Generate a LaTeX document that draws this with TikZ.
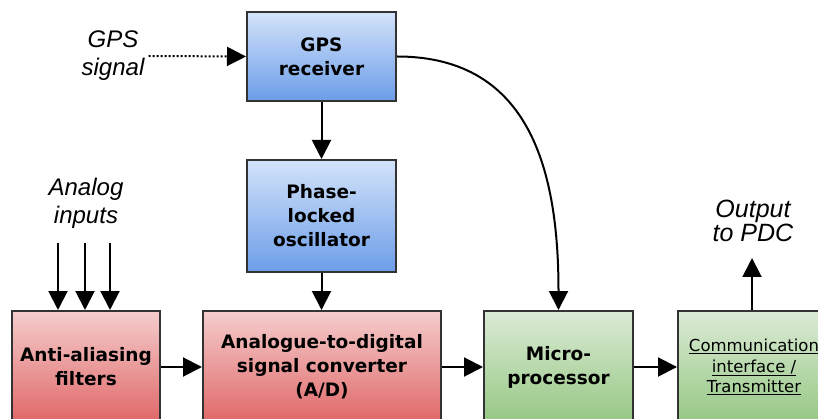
\documentclass[tikz,border=0pt]{standalone}
\usepackage{fontspec}
\setmainfont{DejaVu Sans}
\newfontfamily\lblfont{Liberation Sans}
\usetikzlibrary{arrows.meta}
\definecolor{boxline}{HTML}{333333}
\definecolor{bluetop}{HTML}{D3E3FA}
\definecolor{bluebot}{HTML}{6C9DE8}
\definecolor{redtop}{HTML}{F5CDCD}
\definecolor{redbot}{HTML}{E06767}
\definecolor{greentop}{HTML}{DCEBD6}
\definecolor{greenbot}{HTML}{95C783}

\begin{document}
\begin{tikzpicture}[x=1pt,y=-1pt,
    blk/.style={draw=boxline,line width=2pt,inner sep=0pt,align=center,
      font=\fontsize{18.5}{24}\selectfont\bfseries},
    blueblk/.style={blk,top color=bluetop,bottom color=bluebot},
    redblk/.style={blk,top color=redtop,bottom color=redbot},
    greenblk/.style={blk,top color=greentop,bottom color=greenbot},
    lbl/.style={align=center,inner sep=4pt,font=\lblfont\itshape\fontsize{24}{28}\selectfont},
    arr/.style={-{Triangle[length=19pt,width=19pt]},line width=2pt}]
        \useasboundingbox (0,0) rectangle (818,419);
        \clip (0,0) rectangle (818,419);

        \node[blueblk,minimum width=149pt,minimum height=89pt] (gps) at (321.5,56.5) {GPS\\receiver};
        \node[blueblk,minimum width=149pt,minimum height=112pt] (plo) at (321.5,216) {Phase-\\locked\\oscillator};
        \node[redblk,minimum width=148pt,minimum height=112pt] (anti) at (86,367) {Anti-aliasing\\filters};
        \node[redblk,minimum width=238pt,minimum height=112pt] (adc) at (322,367) {Analogue-to-digital\\signal converter\\(A/D)};
        \node[greenblk,minimum width=149pt,minimum height=112pt] (micro) at (558.5,367) {Micro-\\processor};
        \node[greenblk,minimum width=152pt,minimum height=112pt,
          font=\fontsize{16.5}{20.5}\selectfont] (comm) at (754,367)
          {\underline{Communication}\\\underline{interface /}\\\underline{Transmitter}};

        \node[lbl] (gpssig) at (113,56) {GPS\\signal};
        \node[lbl] (analog) at (86,203) {Analog\\inputs};
        \node[lbl,font=\lblfont\itshape\fontsize{25}{20}\selectfont] (pdc) at (753,221) {Output\\to PDC};

        \coordinate (in1) at (58,243);
        \coordinate (in2) at (85,243);
        \coordinate (in3) at (110,243);
        \coordinate (out) at (752,258);

        \draw[arr,dash pattern=on 2pt off 2pt] (gpssig.east) -- (gps.west);
        \draw[arr] (gps) -- (plo);
        \draw[arr] (plo) -- (plo.south |- adc.north);
        \foreach \i in {in1,in2,in3}
            \draw[arr] (\i) -- (\i |- anti.north);
        \draw[arr] (anti) -- (adc);
        \draw[arr] (adc) -- (micro);
        \draw[arr] (micro) -- (comm.west |- micro);
        \draw[arr] (out |- comm.north) -- (out);
        \draw[arr] (gps.east) to[out=0,in=90,looseness=1.15] (micro.north);
    \end{tikzpicture}
\end{document}
